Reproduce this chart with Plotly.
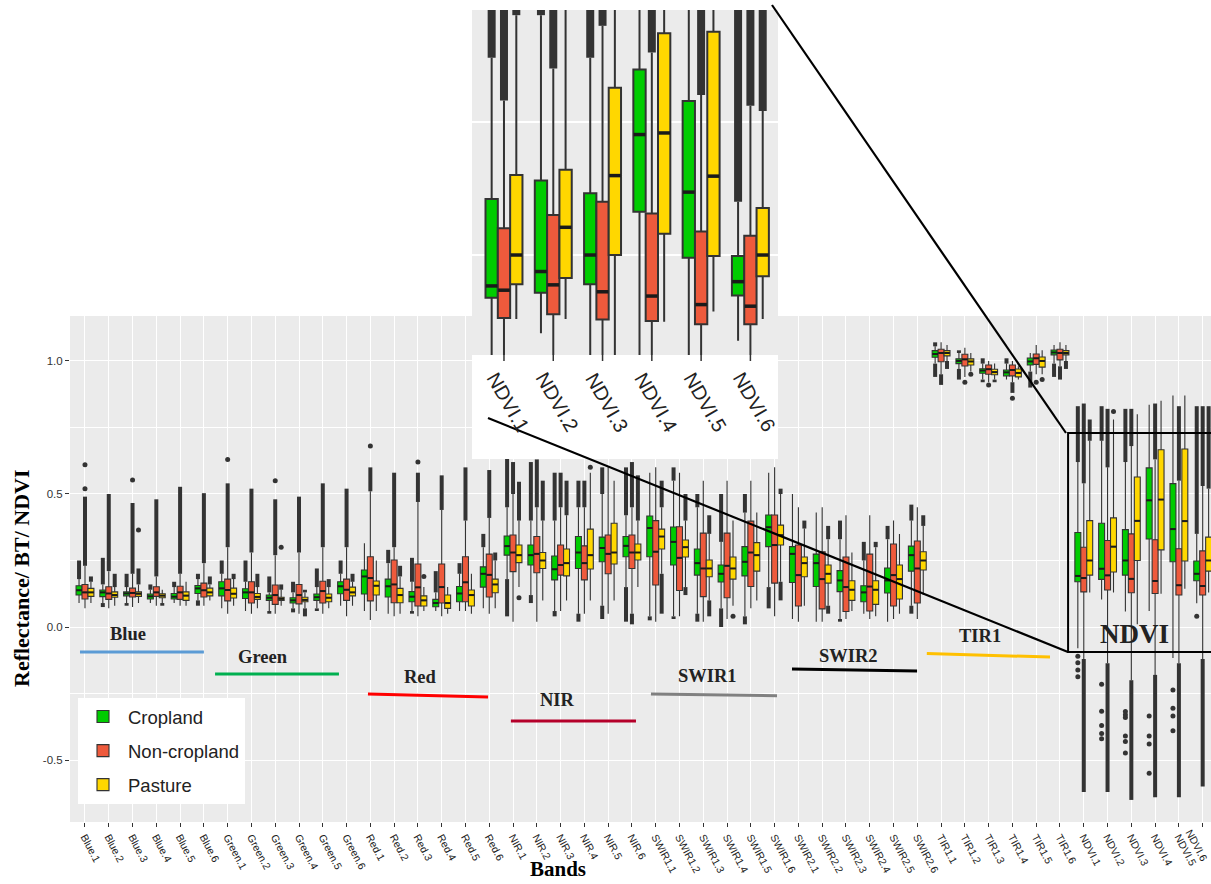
import plotly.graph_objects as go

# ---------------- data ----------------
bands = ["Blue", "Green", "Red", "NIR", "SWIR1", "SWIR2", "TIR1", "NDVI"]
categories = [f"{b}.{i}" for b in bands for i in range(1, 7)]
series_names = ["Cropland", "Non-cropland", "Pasture"]

crop_lw = [.09, .09, .09, .09, .09, .10, .07, .06, .06, .07, .07, .08,
           .06, .05, .06, .06, .06, .07, .18, .12, .06, .05, .08, .15,
           .04, .04, .05, .07, .04, .15, .03, .02, .03, .05, .02, .08,
           .99, .97, .93, .93, .96, .99, -.08, .103, .058, .06, -.117, .089]
crop_q1 = [.12, .114, .117, .105, .105, .126, .117, .107, .10, .09, .10, .125,
           .124, .113, .095, .076, .095, .15, .27, .233, .177, .22, .245, .264,
           .264, .233, .195, .169, .192, .302, .167, .152, .133, .095, .128, .21,
           1.014, .99, .954, .944, .985, 1.023, .17, .179, .195, .331, .245, .174]
crop_med = [.138, .13, .126, .115, .114, .145, .145, .13, .11, .10, .112, .153,
            .19, .153, .114, .09, .126, .20, .304, .27, .217, .28, .297, .305,
            .372, .32, .24, .20, .245, .375, .275, .24, .175, .13, .175, .27,
            1.026, 1.0, .964, .957, .998, 1.032, .192, .219, .25, .476, .368, .20]
crop_q3 = [.155, .139, .132, .124, .126, .156, .17, .144, .12, .11, .124, .17,
           .214, .18, .133, .104, .152, .226, .342, .308, .267, .34, .338, .34,
           .417, .376, .293, .233, .302, .421, .302, .274, .212, .155, .222, .304,
           1.039, 1.008, .971, .966, 1.011, 1.041, .355, .39, .366, .598, .539, .248]
crop_uw = [.18, .16, .15, .14, .15, .18, .20, .17, .13, .13, .15, .20,
           .315, .24, .17, .13, .20, .30, .45, .40, .40, .45, .50, .42,
           .58, .55, .45, .32, .43, .58, .50, .43, .33, .25, .33, .40,
           1.055, 1.03, .99, .99, 1.03, 1.06, .62, .70, .62, .835, .87, .35]
crop_out_hi = [.25, .26, .20, .16, .17, .20, .25, .25, .19, .17, .22, .25,
               None, .29, .26, .21, .24, .35, .64, .62, .58, .55, .60, .60,
               None, .60, .50, .50, .50, None, None, None, .40, .32, .38, .46,
               1.07, 1.04, 1.01, 1.01, None, None, .83, .83, .82, None, None, .83]
crop_out_lo = [None, .075, .08, None, None, .08, None, None, .05, .055, .06, None,
               None, None, .05, None, None, None, .04, .09, .04, .02, .03, .02,
               .025, .03, .02, .0, .01, .07, None, None, .02, None, None, .05,
               .94, .93, .92, None, .90, .94, None, None, None, None, None, None]
crop_dot_idx = [42, 42, 42, 42, 43, 43, 43, 43, 43, 44, 44, 44, 44, 44, 44,
                45, 45, 45, 45, 46, 46, 46, 46, 47]
crop_dot_val = [-.11, -.134, -.162, -.187, -.215, -.317, -.37, -.40, -.42,
                -.318, -.33, -.34, -.41, -.43, -.474, -.335, -.41, -.44, -.55,
                -.237, -.305, -.335, -.39, .04]

non_lw = [.07, .07, .075, .08, .08, .08, .05, .05, .05, .05, .05, .04,
          .026, .04, .04, .04, .06, .05, .02, .02, .06, .05, .05, .05,
          .02, .04, .02, .03, .07, .04, .02, .02, .03, .03, .03, .03,
          .95, .94, .92, .92, .95, .98, -.12, -.136, -.20, -.18, -.136, -.12]
non_q1 = [.105, .104, .113, .115, .104, .113, .098, .09, .085, .087, .09, .10,
          .098, .091, .079, .09, .095, .113, .208, .204, .195, .177, .20, .22,
          .158, .137, .114, .11, .152, .165, .079, .068, .058, .06, .079, .09,
          .997, .981, .95, .944, .987, 1.004, .132, .139, .129, .126, .12, .12]
non_med = [.13, .126, .128, .13, .13, .138, .139, .13, .12, .12, .135, .14,
           .184, .16, .149, .15, .168, .196, .28, .275, .233, .24, .275, .28,
           .283, .26, .22, .23, .28, .308, .195, .18, .15, .152, .195, .22,
           1.03, 1.006, .969, .966, 1.01, 1.03, .184, .194, .181, .173, .157, .154]
non_q3 = [.16, .151, .146, .151, .153, .165, .18, .17, .158, .16, .172, .18,
          .264, .252, .237, .237, .264, .274, .346, .34, .308, .305, .346, .346,
          .40, .377, .353, .353, .398, .421, .308, .283, .263, .274, .312, .323,
          1.044, 1.025, .985, .985, 1.026, 1.044, .30, .325, .35, .328, .294, .286]
non_uw = [.23, .21, .20, .19, .20, .24, .30, .28, .27, .28, .30, .30,
          .51, .30, .47, .44, .40, .41, .50, .45, .45, .45, .60, .45,
          .60, .58, .55, .55, .55, .60, .45, .45, .42, .42, .40, .45,
          1.07, 1.05, 1.0, 1.0, 1.06, 1.07, .54, .60, .68, .63, .55, .53]
non_out_hi = [.49, .50, .466, .48, .527, .503, .54, .52, .48, .49, .54, .52,
              .60, .58, .58, .57, .60, .59, .62, .63, .58, .55, None, .62,
              None, None, None, None, None, None, None, None, None, None, None, None,
              None, None, None, None, None, None, .84, .82, .82, .84, .83, .83]
non_out_lo = [None, None, None, None, None, None, None, None, None, None, None, None,
              None, None, None, None, None, None, None, None, None, None, None, .01,
              None, None, None, None, None, None, None, None, None, None, None, None,
              .91, None, None, .88, None, .93, -.62, -.62, -.65, -.64, -.64, -.60]
non_dot_idx = [0, 0, 2, 6, 8, 12, 14, 37, 38, 39, 40]
non_dot_val = [.52, .61, .553, .63, .55, .68, .62, .92, .91, .86, .92]

pas_lw = [.09, .08, .09, .09, .08, .10, .08, .07, .08, .07, .07, .08,
          .06, .05, .06, .05, .05, .07, .15, .10, .10, .10, .10, .15,
          .20, .15, .10, .08, .10, .17, .08, .08, .06, .04, .05, .12,
          1.0, .96, .93, .93, .95, 1.0, .13, .13, .01, .125, .144, .13]
pas_q1 = [.115, .112, .115, .11, .10, .117, .109, .104, .10, .095, .095, .117,
          .12, .091, .079, .07, .079, .129, .242, .22, .192, .218, .237, .252,
          .293, .263, .189, .18, .21, .308, .189, .165, .10, .085, .105, .214,
          1.019, .985, .948, .94, .977, 1.023, .195, .207, .25, .29, .248, .21]
pas_med = [.13, .12, .125, .118, .118, .13, .125, .113, .106, .102, .11, .13,
           .155, .12, .10, .09, .12, .16, .27, .25, .24, .27, .28, .28,
           .34, .30, .22, .22, .27, .345, .24, .20, .14, .14, .18, .25,
           1.03, .998, .958, .955, 1.0, 1.03, .25, .302, .399, .479, .398, .25]
pas_q3 = [.145, .132, .132, .125, .132, .146, .146, .126, .112, .112, .124, .15,
          .173, .145, .117, .12, .139, .18, .308, .28, .293, .368, .39, .312,
          .368, .327, .252, .263, .317, .383, .263, .233, .174, .174, .233, .283,
          1.039, 1.008, .969, .97, 1.015, 1.039, .40, .41, .564, .666, .669, .338]
pas_uw = [.17, .15, .16, .14, .17, .16, .18, .15, .14, .13, .15, .17,
          .25, .19, .15, .15, .20, .25, .40, .40, .42, .58, .55, .40,
          .45, .40, .35, .40, .43, .50, .37, .33, .28, .30, .35, .38,
          1.06, 1.03, .99, .98, 1.04, 1.06, .70, .78, .80, .85, .87, .52]
pas_out_hi = [.19, .20, .22, None, None, .19, .20, .20, .16, .14, .18, .20,
              None, .23, None, None, None, .28, .546, .55, .55, None, None, .57,
              .55, .50, .42, None, None, .52, .40, .38, None, .32, None, .42,
              None, None, None, None, None, None, .78, None, None, None, None, .83]
pas_out_lo = [None, None, None, .08, None, None, None, None, None, .04, None, None,
              None, None, None, None, None, None, None, None, None, None, None, None,
              .05, .12, .04, None, None, .10, None, .05, None, None, None, None,
              .97, None, .92, None, None, .97, None, None, None, None, None, None]
pas_dot_idx = [2, 8, 14, 21, 18, 27, 37, 40, 43]
pas_dot_val = [.365, .30, .19, .60, .11, .04, .95, .93, .81]

band_label_x = [1.81, 7.49, 14.09, 19.85, 26.16, 32.09, 37.64]
band_label_y = [-.026, -.113, -.188, -.274, -.184, -.109, -.034]
band_line_x0 = [-0.21, 5.47, 11.9, 17.91, 23.8, 29.73, 35.4]
band_line_x1 = [5.0, 10.68, 16.95, 23.17, 29.1, 34.99, 40.58]
band_line_y0 = [-.094, -.177, -.252, -.353, -.252, -.158, -.100]
band_line_y1 = [-.094, -.177, -.263, -.353, -.258, -.165, -.113]
band_line_colors = ["#5B9BD5", "#00B050", "#FF0000", "#B5002A", "#808080", "#000000", "#FFC000"]

fill_colors = ["#00CC00", "#EE5A3C", "#FFD700"]
offsets = [-0.25, 0.0, 0.25]

series = [
    dict(lw=crop_lw, q1=crop_q1, med=crop_med, q3=crop_q3, uw=crop_uw,
         hi=crop_out_hi, lo=crop_out_lo, di=crop_dot_idx, dv=crop_dot_val),
    dict(lw=non_lw, q1=non_q1, med=non_med, q3=non_q3, uw=non_uw,
         hi=non_out_hi, lo=non_out_lo, di=non_dot_idx, dv=non_dot_val),
    dict(lw=pas_lw, q1=pas_q1, med=pas_med, q3=pas_q3, uw=pas_uw,
         hi=pas_out_hi, lo=pas_out_lo, di=pas_dot_idx, dv=pas_dot_val),
]

DARK = "#333333"
fig = go.Figure()


def add_series(s, k, idxs, shift, xa, ya, lw_box, lw_out, msize, lw_med, legend):
    xs = [i - shift + offsets[k] for i in idxs]
    fig.add_trace(go.Box(
        x=xs, q1=[s["q1"][i] for i in idxs], median=[s["med"][i] for i in idxs],
        q3=[s["q3"][i] for i in idxs], lowerfence=[s["lw"][i] for i in idxs],
        upperfence=[s["uw"][i] for i in idxs], width=0.25,
        fillcolor=fill_colors[k], line=dict(color=DARK, width=lw_box),
        whiskerwidth=0, boxpoints=False, name=series_names[k],
        legendgroup=series_names[k], showlegend=legend,
        xaxis=xa, yaxis=ya, hoverinfo="skip"))
    # thicker median bars (ggplot style)
    mx, my = [], []
    for i in idxs:
        x = i - shift + offsets[k]
        mx += [x - 0.118, x + 0.118, None]
        my += [s["med"][i], s["med"][i], None]
    fig.add_trace(go.Scatter(x=mx, y=my, mode="lines", line=dict(color="#1a1a1a", width=lw_med),
                             legendgroup=series_names[k],
                             showlegend=False, hoverinfo="skip", xaxis=xa, yaxis=ya))
    bx, by = [], []
    for i in idxs:
        x = i - shift + offsets[k]
        if s["hi"][i] is not None:
            bx += [x, x, None]
            by += [s["uw"][i], s["hi"][i], None]
        if s["lo"][i] is not None:
            bx += [x, x, None]
            by += [s["lw"][i], s["lo"][i], None]
    fig.add_trace(go.Scatter(x=bx, y=by, mode="lines",
                             line=dict(color=DARK, width=lw_out),
                             legendgroup=series_names[k],
                             showlegend=False, hoverinfo="skip",
                             xaxis=xa, yaxis=ya))
    dx = [i - shift + offsets[k] for i in s["di"] if i in idxs]
    dy = [v for i, v in zip(s["di"], s["dv"]) if i in idxs]
    fig.add_trace(go.Scatter(x=dx, y=dy, mode="markers",
                             marker=dict(color=DARK, size=msize),
                             legendgroup=series_names[k],
                             showlegend=False, hoverinfo="skip",
                             xaxis=xa, yaxis=ya))


all_idx = list(range(len(categories)))
ndvi_idx = list(range(42, 48))
for k, s in enumerate(series):
    add_series(s, k, all_idx, 0, "x", "y", 1.1, 4, 5, 2, True)
for k, s in enumerate(series):
    add_series(s, k, ndvi_idx, 42, "x2", "y2", 2, 8, 9, 3.5, False)

# ---------------- layout ----------------
H_PAPER = 822.0
W_PAPER = 1141.0


def py(p):
    return (H_PAPER - p) / H_PAPER


def px(p):
    return (p - 70) / W_PAPER


shapes = []
# white label area under the inset
shapes.append(dict(type="rect", xref="paper", yref="paper", x0=px(472), x1=px(778),
                   y0=py(459), y1=py(355), fillcolor="white", line=dict(width=0), layer="above"))
for i in range(6):
    shapes.append(dict(type="line", xref="x2", yref="paper", x0=i, x1=i,
                       y0=py(355), y1=py(361), line=dict(color=DARK, width=1.5), layer="above"))
# band underlines
for j in range(7):
    shapes.append(dict(type="line", xref="x", yref="y", x0=band_line_x0[j], x1=band_line_x1[j],
                       y0=band_line_y0[j], y1=band_line_y1[j],
                       line=dict(color=band_line_colors[j], width=3), layer="above"))
# NDVI frame and zoom lines
shapes.append(dict(type="rect", xref="x", yref="y", x0=41.34, x1=48.5, y0=-0.094, y1=0.729,
                   line=dict(color="black", width=2), fillcolor="rgba(0,0,0,0)", layer="above"))
shapes.append(dict(type="line", xref="paper", yref="paper", x0=px(772), y0=py(5),
                   x1=px(1066), y1=py(433), line=dict(color="black", width=2.2), layer="above"))
shapes.append(dict(type="line", xref="paper", yref="paper", x0=px(488), y0=py(418),
                   x1=px(1068), y1=py(652), line=dict(color="black", width=2.2), layer="above"))

annotations = []
for j in range(7):
    annotations.append(dict(text="<b>" + bands[j] + "</b>", x=band_label_x[j], y=band_label_y[j],
                            xref="x", yref="y", xanchor="center", yanchor="middle",
                            showarrow=False,
                            font=dict(family="Liberation Serif", size=18.5, color="#222222")))
annotations.append(dict(text="<b>NDVI</b>", x=44.15, y=-0.026, xref="x", yref="y", showarrow=False,
                        xanchor="center", yanchor="middle",
                        font=dict(family="Liberation Serif", size=27, color="#222222")))
for i in range(6):
    annotations.append(dict(text=categories[42 + i], x=i, xref="x2", y=py(402), yref="paper",
                            xshift=4, textangle=60, showarrow=False,
                            xanchor="center", yanchor="middle",
                            font=dict(family="Liberation Sans", size=20, color="#222222")))
# last main tick label sits at the figure edge; drawn as an annotation so it stays visible
annotations.append(dict(text=categories[47], x=47, xref="x", y=py(845), yref="paper",
                        xshift=-6, textangle=62, showarrow=False,
                        xanchor="center", yanchor="middle",
                        font=dict(family="Liberation Sans", size=10.5, color="#222222")))
annotations.append(dict(text="<b>Reflectance/ BT/ NDVI</b>", x=px(22), y=py(578), xref="paper",
                        yref="paper", textangle=-90, showarrow=False,
                        xanchor="center", yanchor="middle",
                        font=dict(family="Liberation Serif", size=22, color="black")))
annotations.append(dict(text="<b>Bands</b>", x=px(558), y=py(869), xref="paper", yref="paper",
                        xanchor="center", yanchor="middle",
                        showarrow=False, font=dict(family="Liberation Serif", size=21, color="black")))

fig.update_layout(
    width=1211, height=884,
    margin=dict(l=70, r=0, t=0, b=62),
    paper_bgcolor="white", plot_bgcolor="#EBEBEB",
    showlegend=True,
    legend=dict(x=px(78), y=py(698), xanchor="left", yanchor="top", bgcolor="white",
                font=dict(family="Liberation Sans", size=18.5, color="#222222"),
                tracegroupgap=7, traceorder="grouped", borderwidth=0, itemwidth=40),
    xaxis=dict(domain=[0, 1], anchor="y", range=[-0.63, 47.35], tickmode="array",
               tickvals=all_idx, ticktext=categories, tickangle=62,
               tickfont=dict(family="Liberation Sans", size=10.5, color="#222222"),
               automargin=False,
               ticks="outside", ticklen=4, tickcolor=DARK, showgrid=True,
               gridcolor="white", gridwidth=1.1, zeroline=False, showline=False),
    yaxis=dict(domain=[0, py(316)], anchor="x", range=[-0.733, 1.169], tickmode="array",
               tickvals=[-0.5, 0, 0.5, 1.0], ticktext=["-0.5", "0.0", "0.5", "1.0"],
               tickfont=dict(family="Liberation Sans", size=11.5, color="#333333"),
               ticks="outside", ticklen=4, tickcolor=DARK, showgrid=True,
               gridcolor="white", gridwidth=1.1, zeroline=False, automargin=False,
               minor=dict(tickvals=[-0.25, 0.25, 0.75], showgrid=True, gridcolor="white",
                          gridwidth=0.5, ticks="")),
    xaxis2=dict(domain=[px(472), px(778)], anchor="y2", range=[-0.649, 5.56], tickmode="array",
                tickvals=list(range(6)), showticklabels=False, showgrid=True,
                gridcolor="white", gridwidth=1.5, zeroline=False, ticks=""),
    yaxis2=dict(domain=[py(355), py(10)], anchor="x2", range=[0.0624, 0.7097], tickmode="array",
                tickvals=[0.25, 0.5], showticklabels=False, showgrid=True,
                gridcolor="white", gridwidth=1.5, zeroline=False, ticks=""),
    shapes=shapes, annotations=annotations,
)

fig.write_html("out.html", config={"displayModeBar": False},
               post_script="document.body.style.margin='0px';document.body.style.overflow='hidden';")
